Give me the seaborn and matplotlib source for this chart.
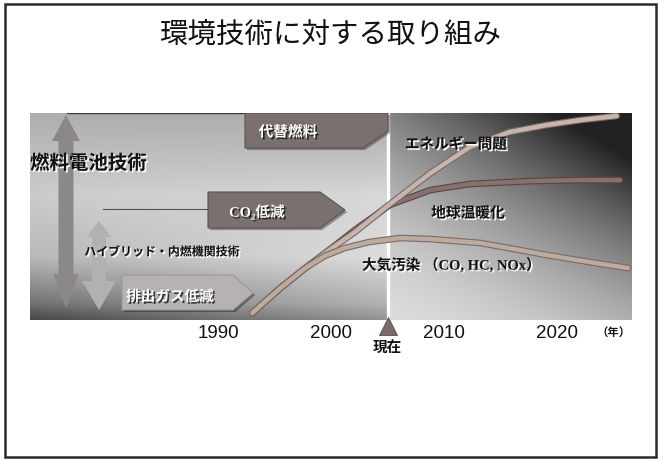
import numpy as np
import pandas as pd
import matplotlib
matplotlib.use("Agg")
import matplotlib.pyplot as plt
import seaborn as sns
from matplotlib import patheffects as pe
from matplotlib.patches import Polygon, Rectangle

# ---- data -------------------------------------------------------------
energy_years = [1993.0, 1995.5, 1997.7, 1999.6, 2002.1, 2005.2, 2008.8, 2012.3, 2015.8, 2019.1, 2022.1, 2025.3]
energy_values = [3.4, 15.5, 25.1, 32.9, 42.5, 56.0, 71.0, 83.6, 90.8, 94.2, 96.6, 98.6]

warming_years = [1993.0, 1995.5, 1997.7, 1999.6, 2002.1, 2005.2, 2008.8, 2012.3, 2017.6, 2022.1, 2025.6]
warming_values = [3.4, 15.5, 25.1, 32.9, 43.5, 55.6, 62.8, 65.7, 67.1, 67.6, 67.6]

air_years = [1993.0, 1995.5, 1997.7, 1999.4, 2001.2, 2003.4, 2006.1, 2008.8, 2013.2, 2016.7, 2019.1, 2022.9, 2026.3]
air_values = [3.4, 15.5, 25.1, 30.9, 34.8, 37.7, 39.6, 39.1, 37.2, 33.8, 31.4, 28.0, 25.1]

series_names = ["エネルギー問題", "地球温暖化", "大気汚染"]
tick_years = [1990, 2000, 2010, 2020]
tick_labels = ["1990", "2000", "2010", "2020"]
now_year = 2005

title = "環境技術に対する取り組み"

# ---- figure -----------------------------------------------------------
sns.set_theme(style="white")
plt.rcParams["font.family"] = ["Noto Sans CJK JP", "DejaVu Sans"]

W, H = 659, 461
fig = plt.figure(figsize=(W / 100, H / 100), dpi=100)
fig.patch.set_facecolor("white")


def fp(x, y):
    """pixel position (from top-left) -> figure fraction"""
    return (x / W, 1 - y / H)


# timeline panel
PX0, PX1, PY0, PY1 = 30, 632, 113, 320
ax = fig.add_axes([PX0 / W, 1 - PY1 / H, (PX1 - PX0) / W, (PY1 - PY0) / H])
xmin, xmax = 1973.29, 2026.66
ax.set_xlim(xmin, xmax)
ax.set_ylim(0, 100)

# background shading, split at "now"
ny, nx = PY1 - PY0, PX1 - PX0
yy, xx = np.mgrid[0:ny, 0:nx]
v = 1 - yy / (ny - 1)
split = (now_year - xmin) / (xmax - xmin) * nx
u_left = np.clip(xx / split, 0, 1)
b_left = np.interp(v, [0, 0.08, 0.3, 0.6, 1.0], [0.28, 0.45, 0.72, 0.80, 0.68])
b_left = b_left + 0.30 * u_left * (1 - v) ** 2
u_right = np.clip((xx - split) / (nx - split), 0, 1)
s = np.clip(0.45 * u_right + 0.7 * v + 0.15 * u_right * v, 0, None)
b_right = np.clip(0.86 - 0.62 * s ** 1.6, 0.13, 1)
bg = np.where(xx < split, b_left, b_right)
bg = np.clip(bg, 0, 1)
ax.imshow(np.dstack([bg, bg, bg]), extent=(xmin, xmax, 0, 100),
          aspect="auto", origin="upper", zorder=0, interpolation="bilinear")
ax.set_xlim(xmin, xmax)
ax.set_ylim(0, 100)

# "now" divider
ax.axvline(now_year, color="white", lw=2.4, zorder=2)

# curves
df = pd.concat([
    pd.DataFrame({"year": warming_years, "value": warming_values, "series": series_names[1]}),
    pd.DataFrame({"year": energy_years, "value": energy_values, "series": series_names[0]}),
    pd.DataFrame({"year": air_years, "value": air_values, "series": series_names[2]}),
])
draw_order = [series_names[1], series_names[0], series_names[2]]
palette = {series_names[0]: "#c6b5ad", series_names[1]: "#86716f", series_names[2]: "#bcab9f"}
edges = {series_names[0]: "#7a6862", series_names[1]: "#564645", series_names[2]: "#7a6a62"}
sns.lineplot(data=df, x="year", y="value", hue="series", palette=palette,
             hue_order=draw_order, linewidth=3.2, legend=False, ax=ax, zorder=3)
for line, name in zip(ax.lines[-3:], draw_order):
    line.set_solid_capstyle("round")
    line.set_path_effects([pe.Stroke(linewidth=4.8, foreground=edges[name]), pe.Normal()])

# axis styling
for sp in ax.spines.values():
    sp.set_visible(False)
ax.set_yticks([])
ax.set_xticks(tick_years)
ax.set_xticklabels(tick_labels, fontfamily=["Liberation Sans", "DejaVu Sans"], fontsize=13.5, color="#111111")
ax.tick_params(axis="x", length=0, pad=3.6)
ax.set_xlabel("")
ax.set_ylabel("")

# now marker + label
ax.plot([now_year], [-3.1], marker="^", markersize=13, color="#7a6a6a",
        markeredgecolor="#5a4c4c", markeredgewidth=0.6, clip_on=False, zorder=5)
ax.text(now_year, -13.5, "現在", ha="center", va="center", fontsize=10.5,
        fontweight="bold", color="#111111", clip_on=False)

# ---- diagram shapes ---------------------------------------------------
def poly(points, **kw):
    p = Polygon([fp(x, y) for x, y in points], closed=True, transform=fig.transFigure, **kw)
    ax.add_patch(p)
    return p


def double_arrow(cx, top, bottom, head_h_top, head_h_bot, hw_top, hw_bot, sw, color, z):
    pts = [(cx, top), (cx + hw_top, top + head_h_top), (cx + sw, top + head_h_top),
           (cx + sw, bottom - head_h_bot), (cx + hw_bot, bottom - head_h_bot), (cx, bottom),
           (cx - hw_bot, bottom - head_h_bot), (cx - sw, bottom - head_h_bot),
           (cx - sw, top + head_h_top), (cx - hw_top, top + head_h_top)]
    return poly(pts, facecolor=color, edgecolor="none", zorder=z)


double_arrow(66, 115, 308, 26, 34, 14, 13, 7.5, "#8c8888", 1.5)
double_arrow(99, 221, 310, 16, 29, 12.5, 17, 7, "#b2b0b0", 1.6)

shadow = [pe.withSimplePatchShadow(offset=(1.5, -1.5), shadow_rgbFace="black", alpha=0.35)]
poly([(245, 113), (388, 113), (388, 131), (363, 148), (245, 148)],
     facecolor="#7b7070", edgecolor="#5e5252", lw=0.8, zorder=2.5, path_effects=shadow)
poly([(208, 192), (320, 192), (345, 210), (320, 228), (208, 228)],
     facecolor="#7b7070", edgecolor="#5e5252", lw=0.8, zorder=2.5, path_effects=shadow)
poly([(122, 275), (233, 275), (253, 293), (233, 310), (122, 310)],
     facecolor="#b6b2b2", edgecolor="#9a9696", lw=0.8, zorder=2.5, path_effects=shadow)

# thin guide lines
ax.add_line(plt.Line2D([fp(67, 113)[0], fp(245, 113)[0]], [fp(67, 113)[1]] * 2,
                       transform=fig.transFigure, color="#3a3a3a", lw=1.0, zorder=2))
ax.add_line(plt.Line2D([fp(103, 209)[0], fp(208, 209)[0]], [fp(103, 209)[1]] * 2,
                       transform=fig.transFigure, color="#555555", lw=0.8, zorder=2))

ax.set_xlim(xmin, xmax)
ax.set_ylim(0, 100)

# ---- labels -----------------------------------------------------------
dark_fx = [pe.withSimplePatchShadow(offset=(1.2, -1.2), shadow_rgbFace="white", alpha=0.95)]
light_fx = [pe.withSimplePatchShadow(offset=(1.2, -1.2), shadow_rgbFace="black", alpha=0.7)]


def label(x, y, text, size, color, fx, ha="center", family=None, weight="bold"):
    kw = {}
    if family is not None:
        kw["family"] = family
    fig.text(*fp(x, y), text, ha=ha, va="center", fontsize=size, fontweight=weight,
             color=color, path_effects=fx, zorder=10, **kw)


label(330, 35, title, 20.5, "#111111", None, weight="normal")
label(30, 163.5, "燃料電池技術", 14, "#111111", dark_fx, ha="left")
label(161.5, 252, "ハイブリッド・内燃機関技術", 8.6, "#111111", dark_fx)
label(170, 296, "排出ガス低減", 10.5, "white", light_fx)
label(257, 212, "CO₂低減", 10.5, "white", light_fx,
      family=["Liberation Serif", "DejaVu Serif", "Noto Sans CJK JP"])
label(288, 131.5, "代替燃料", 10.6, "white", light_fx)
label(456, 143.5, series_names[0], 10.5, "#111111", dark_fx)
label(468, 212.5, "地球温暖化", 10.6, "#111111", dark_fx)
label(362, 265, series_names[2] + " （CO, HC, NOx）", 10.5, "#111111", dark_fx, ha="left",
      family=["Liberation Serif", "Noto Sans CJK JP"])
label(614, 332, "（年）", 8.2, "#111111", None)

# outer frame
fig.patches.append(Rectangle(fp(5, 457), 651 / W, 453 / H, transform=fig.transFigure,
                             fill=False, edgecolor="#2a2a2a", lw=1.8, zorder=0))

fig.savefig("out.png", dpi=100, facecolor="white")
